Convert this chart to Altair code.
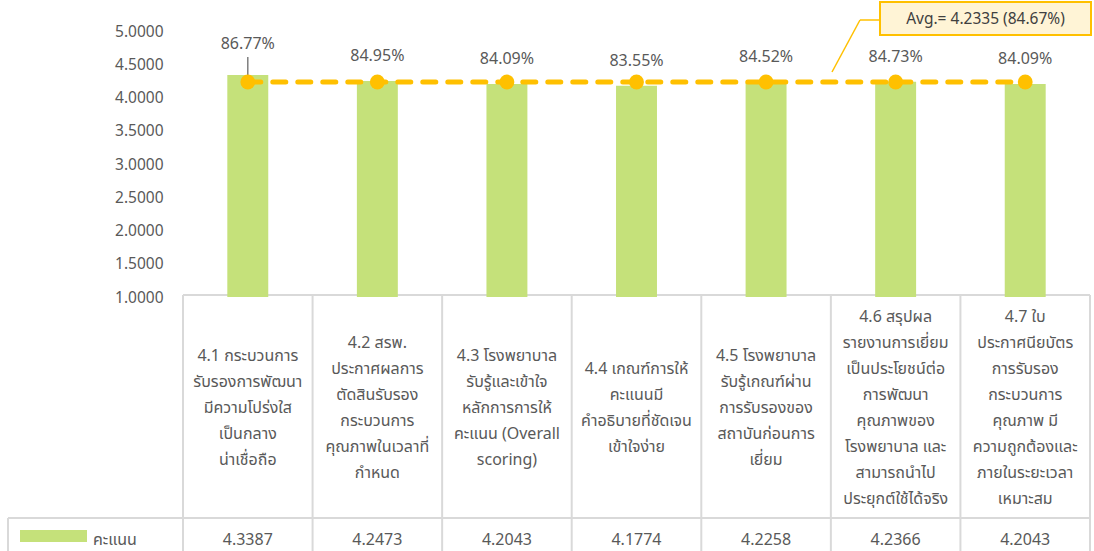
import altair as alt
import pandas as pd

# ---- data ----
labels = [
    "4.1 กระบวนการ\nรับรองการพัฒนา\nมีความโปร่งใส\nเป็นกลาง\nน่าเชื่อถือ",
    "4.2 สรพ.\nประกาศผลการ\nตัดสินรับรอง\nกระบวนการ\nคุณภาพในเวลาที่\nกำหนด",
    "4.3 โรงพยาบาล\nรับรู้และเข้าใจ\nหลักการการให้\nคะแนน (Overall\nscoring)",
    "4.4 เกณฑ์การให้\nคะแนนมี\nคำอธิบายที่ชัดเจน\nเข้าใจง่าย",
    "4.5 โรงพยาบาล\nรับรู้เกณฑ์ผ่าน\nการรับรองของ\nสถาบันก่อนการ\nเยี่ยม",
    "4.6 สรุปผล\nรายงานการเยี่ยม\nเป็นประโยชน์ต่อ\nการพัฒนา\nคุณภาพของ\nโรงพยาบาล และ\nสามารถนำไป\nประยุกต์ใช้ได้จริง",
    "4.7 ใบ\nประกาศนียบัตร\nการรับรอง\nกระบวนการ\nคุณภาพ มี\nความถูกต้องและ\nภายในระยะเวลา\nเหมาะสม",
]
values = [4.3387, 4.2473, 4.2043, 4.1774, 4.2258, 4.2366, 4.2043]
series_name = "คะแนน"
y_ticks = [1.0, 1.5, 2.0, 2.5, 3.0, 3.5, 4.0, 4.5, 5.0]

avg = round(sum(values) / len(values), 4)

df = pd.DataFrame({"cat": labels, "value": values, "idx": list(range(len(labels)))})
df["avg"] = avg

FONT = "Tahoma, 'Noto Sans Thai', 'Noto Sans', 'DejaVu Sans', sans-serif"
GREEN = "#C5E17A"
ORANGE = "#FFC000"
GRID = "#D9D9D9"
TXT = "#595959"

W, H = 907, 266
LEFT, TOP = 183, 31
TOTAL_W, TOTAL_H = 1094, 551
LINE_H = 26

xscale = alt.Scale(domain=labels, paddingInner=0.684, paddingOuter=0.342)
yscale = alt.Scale(domain=[1, 5], nice=False, zero=False)
X = alt.X("cat:N", scale=xscale, sort=labels, axis=None)
YAXIS = alt.Axis(values=y_ticks, format=".4f", domain=False, ticks=False,
                 grid=False, labelPadding=20, labelFontSize=15.5,
                 labelOverlap=False, labelColor=TXT, labelFont=FONT, title=None)


def Y(field):
    return alt.Y(field, scale=yscale, axis=YAXIS, title=None)


base = alt.Chart(df)

bars = base.mark_bar(color=GREEN).encode(x=X, y=Y("value:Q"), y2=alt.datum(1))

avg_line = base.mark_line(color=ORANGE, strokeWidth=5, strokeDash=[13, 12],
                          strokeCap="round").encode(x=X, y=Y("avg:Q"))
avg_pts = base.mark_circle(color=ORANGE, size=220, opacity=1).encode(
    x=X, y=Y("avg:Q"))

pct = base.transform_calculate(pct="format(datum.value / 5, '.2%')")
pct_rest = pct.transform_filter("datum.idx > 0").mark_text(
    font=FONT, fontSize=16, color=TXT, dy=-25, baseline="middle"
).encode(x=X, y=Y("value:Q"), text="pct:N")
pct_first = pct.transform_filter("datum.idx == 0").mark_text(
    font=FONT, fontSize=16, color=TXT, dy=-31, baseline="middle"
).encode(x=X, y=Y("value:Q"), text="pct:N")
leader = base.transform_filter("datum.idx == 0").transform_calculate(
    top="datum.value + 0.27"
).mark_rule(color="#7F7F7F", strokeWidth=1.5).encode(
    x=X, y=Y("value:Q"), y2="top:Q"
)

# ---- table below the plot (layout in pixel coordinates) ----
step = W / len(labels)
tbl_top = 264
hdr_bot = 487
bottom = TOTAL_H - TOP
leg_left = 8 - LEFT
segs = []
for i in range(len(labels) + 1):
    segs.append({"x": i * step, "x2": i * step, "y": tbl_top, "y2": bottom})
segs.append({"x": 0, "x2": W, "y": tbl_top, "y2": tbl_top})
segs.append({"x": leg_left, "x2": W, "y": hdr_bot, "y2": hdr_bot})
segs.append({"x": leg_left, "x2": leg_left, "y": hdr_bot, "y2": bottom})
seg_df = pd.DataFrame(segs)
table_lines = alt.Chart(seg_df).mark_rule(color=GRID, strokeWidth=2).encode(
    x=alt.X("x:Q", scale=None), x2="x2:Q",
    y=alt.Y("y:Q", scale=None), y2="y2:Q",
)

hdr_mid = (tbl_top + hdr_bot) / 2 + 1
hdr_text = base.transform_calculate(
    ty=f"{hdr_mid} - (split(datum.cat, '\\n').length - 1) * {LINE_H / 2}"
).mark_text(font=FONT, fontSize=16, color=TXT, lineBreak="\n",
            lineHeight=LINE_H, baseline="middle", align="center").encode(
    x=X, y=alt.Y("ty:Q", scale=None), text="cat:N"
)
val_text = base.transform_calculate(vtxt="format(datum.value, '.4f')").mark_text(
    font=FONT, fontSize=16, color=TXT, baseline="middle", align="center"
).encode(x=X, y=alt.value(509), text="vtxt:N")

leg_df = pd.DataFrame({"name": [series_name]})
leg_swatch = alt.Chart(leg_df).mark_rect(color=GREEN).encode(
    x=alt.value(20 - LEFT), x2=alt.value(87 - LEFT),
    y=alt.value(499), y2=alt.value(511),
)
leg_text = alt.Chart(leg_df).mark_text(font=FONT, fontSize=16, color=TXT,
                                       align="left", baseline="middle").encode(
    x=alt.value(93 - LEFT), y=alt.value(509), text="name:N"
)

# ---- callout ----
call_df = pd.DataFrame({"t": [f"Avg.= {avg:.4f} ({avg / 5:.2%})"]})
call_box = alt.Chart(call_df).mark_rect(fill="#FFF4D6", stroke=ORANGE, strokeWidth=2).encode(
    x=alt.value(880 - LEFT), x2=alt.value(1091 - LEFT),
    y=alt.value(2 - TOP), y2=alt.value(35 - TOP),
)
call_text = alt.Chart(call_df).mark_text(font=FONT, fontSize=15.5, color="#404040",
                                         align="center", baseline="middle").encode(
    x=alt.value((880 + 1091) / 2 - LEFT), y=alt.value(19 - TOP), text="t:N"
)
lead_df = pd.DataFrame([
    {"x": 832 - LEFT, "y": 72 - TOP, "x2": 860 - LEFT, "y2": 20 - TOP},
    {"x": 860 - LEFT, "y": 20 - TOP, "x2": 880 - LEFT, "y2": 20 - TOP},
])
call_lead = alt.Chart(lead_df).mark_rule(color=ORANGE, strokeWidth=1.5).encode(
    x=alt.X("x:Q", scale=None), x2="x2:Q",
    y=alt.Y("y:Q", scale=None), y2="y2:Q",
)

chart = alt.layer(
    table_lines, bars, leader, avg_line, avg_pts, pct_rest, pct_first,
    hdr_text, val_text, leg_swatch, leg_text, call_lead, call_box, call_text,
).properties(
    width=W, height=H,
    autosize=alt.AutoSizeParams(type="none"),
    padding={"left": LEFT, "top": TOP, "right": TOTAL_W - LEFT - W, "bottom": TOTAL_H - TOP - H},
    background="white",
).configure_view(stroke=None)

chart.save("out.html", embed_options={"renderer": "svg", "actions": False})
